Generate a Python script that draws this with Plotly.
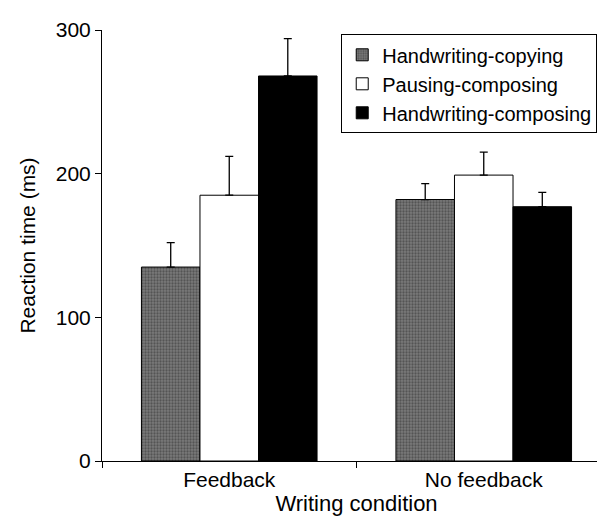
import plotly.graph_objects as go

categories = ["Feedback", "No feedback"]
series_names = ["Handwriting-copying", "Pausing-composing", "Handwriting-composing"]
copying = [135, 182]
pausing = [185, 199]
composing = [268, 177]
copying_err = [17, 11]
pausing_err = [27, 16]
composing_err = [26, 10]

values = [copying, pausing, composing]
errors = [copying_err, pausing_err, composing_err]
fills = ["#6e6e6e", "#ffffff", "#000000"]

FONT = "Liberation Sans, Arial, Helvetica, sans-serif"

fig = go.Figure()
for i, name in enumerate(series_names):
    marker = dict(color=fills[i], line=dict(color="black", width=1))
    if i == 0:
        marker["pattern"] = dict(shape=".", bgcolor="#7a7a7a", fgcolor="#2e2e2e",
                                 size=3, solidity=0.45)
    fig.add_trace(go.Bar(
        name=name, x=categories, y=values[i], marker=marker,
        error_y=dict(type="data", array=errors[i], arrayminus=[0] * len(errors[i]),
                     symmetric=False, color="black", thickness=1.3, width=4),
    ))

fig.update_layout(
    width=605, height=518,
    margin=dict(l=94, r=2, t=22, b=65),
    paper_bgcolor="white", plot_bgcolor="white",
    barmode="group", bargap=0.31, bargroupgap=0,
    font=dict(family=FONT, size=21, color="black"),
    showlegend=True,
    legend=dict(x=0.47, y=0.99, xanchor="left", yanchor="top",
                bgcolor="white", bordercolor="black", borderwidth=1,
                font=dict(size=20), tracegroupgap=0, itemwidth=30),
    xaxis=dict(
        title=dict(text="Writing condition", font=dict(size=22), standoff=5),
        showline=True, linecolor="black", linewidth=1,
        ticks="outside", tickson="boundaries", ticklen=6, tickcolor="black",
        showgrid=False, zeroline=False,
    ),
    yaxis=dict(
        title=dict(text="Reaction time (ms)", font=dict(size=21), standoff=14),
        range=[0, 300], tickvals=[0, 100, 200, 300],
        showline=True, linecolor="black", linewidth=1,
        ticks="outside", ticklen=6, tickcolor="black",
        showgrid=False, zeroline=False,
    ),
)

fig.write_html("out.html")
